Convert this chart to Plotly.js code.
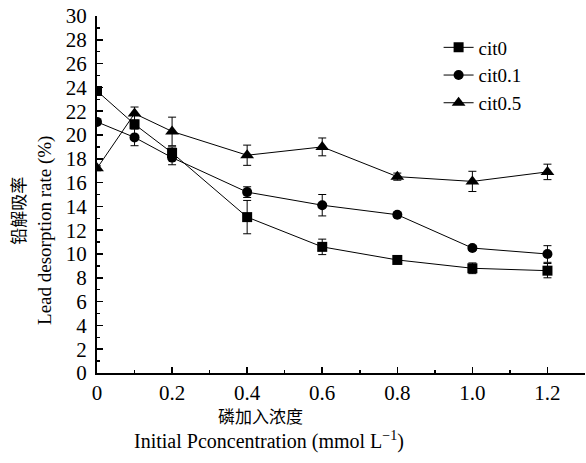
<!DOCTYPE html>
<html>
<head>
<meta charset="utf-8">
<script src="https://cdn.plot.ly/plotly-3.0.1.min.js"></script>
<style>html,body{margin:0;padding:0;background:#fff;}#chart{width:586px;height:463px;}</style>
</head>
<body>
<div id="chart"></div>
<script>
const xVals = [0, 0.1, 0.2, 0.4, 0.6, 0.8, 1.0, 1.2];
const cit0 = [23.7, 20.9, 18.5, 13.1, 10.6, 9.5, 8.8, 8.6];
const cit0Err = [0.2, 0.3, 0.5, 1.4, 0.65, 0.2, 0.45, 0.6];
const cit01 = [21.1, 19.8, 18.1, 15.2, 14.1, 13.3, 10.5, 10.0];
const cit01Err = [0.2, 0.7, 0.6, 0.45, 0.9, 0.2, 0.2, 0.7];
const cit05 = [17.2, 21.8, 20.3, 18.3, 19.0, 16.5, 16.1, 16.9];
const cit05Err = [0.2, 0.55, 1.2, 0.85, 0.75, 0.3, 0.85, 0.65];
const seriesNames = ["cit0", "cit0.1", "cit0.5"];
const yTickVals = [0,2,4,6,8,10,12,14,16,18,20,22,24,26,28,30];
const xTickVals = [0, 0.2, 0.4, 0.6, 0.8, 1.0, 1.2];
const xTickText = ["0", "0.2", "0.4", "0.6", "0.8", "1.0", "1.2"];
const xTitleCn = "磷加入浓度";
const xTitleEn = "Initial Pconcentration (mmol L<sup>−1</sup>)";
const yTitleCn = "铅解吸率";
const yTitleEn = "Lead desorption rate (%)";

const serif = "Liberation Serif";
const cjk = "Noto Sans CJK SC";
function mk(name, y, err, symbol) {
  return {
    x: xVals, y: y, name: name, type: "scatter", mode: "lines+markers",
    line: {color: "#000", width: 1},
    marker: {symbol: symbol, size: symbol === "triangle-up" ? 12 : 10, color: "#000"},
    error_y: {type: "data", array: err, visible: true, color: "#000", thickness: 1, width: 4}
  };
}
const data = [
  mk(seriesNames[0], cit0, cit0Err, "square"),
  mk(seriesNames[1], cit01, cit01Err, "circle"),
  mk(seriesNames[2], cit05, cit05Err, "triangle-up")
];
const layout = {
  width: 586, height: 463,
  margin: {l: 97, r: 1, t: 16, b: 90},
  paper_bgcolor: "#fff", plot_bgcolor: "#fff",
  font: {family: serif, color: "#000", size: 20},
  showlegend: true,
  legend: {x: 0.70, y: 0.965, xanchor: "left", yanchor: "top", bgcolor: "rgba(0,0,0,0)",
           font: {family: serif, size: 19, color: "#000"}, itemwidth: 30, tracegroupgap: 0},
  xaxis: {
    range: [0, 1.3], tickvals: xTickVals, ticktext: xTickText,
    showline: true, linecolor: "#000", linewidth: 2, mirror: false,
    ticks: "inside", ticklen: 6, tickwidth: 1.5, tickcolor: "#000",
    minor: {dtick: 0.1, tick0: 0, ticks: "inside", ticklen: 3, tickcolor: "#000", tickwidth: 1.5},
    showgrid: false, zeroline: false,
    tickfont: {family: serif, size: 21, color: "#000"}
  },
  yaxis: {
    range: [0, 30], tickvals: yTickVals,
    showline: true, linecolor: "#000", linewidth: 2,
    ticks: "inside", ticklen: 6, tickwidth: 1.5, tickcolor: "#000",
    minor: {dtick: 1, tick0: 0, ticks: "inside", ticklen: 3, tickcolor: "#000", tickwidth: 1.5},
    showgrid: false, zeroline: false, ticklabelstandoff: 4,
    tickfont: {family: serif, size: 21, color: "#000"}
  },
  annotations: [
    {text: xTitleCn, xref: "paper", yref: "paper", x: 0.336, y: -0.118, xanchor: "center", yanchor: "middle",
     showarrow: false, font: {family: cjk, size: 17, color: "#000"}},
    {text: xTitleEn, xref: "paper", yref: "paper", x: 0.352, y: -0.190, xanchor: "center", yanchor: "middle",
     showarrow: false, font: {family: serif, size: 20, color: "#000"}},
    {text: yTitleCn, xref: "paper", yref: "paper", x: -0.162, y: 0.454, xanchor: "center", yanchor: "middle",
     textangle: -90, showarrow: false, font: {family: cjk, size: 17, color: "#000"}},
    {text: yTitleEn, xref: "paper", yref: "paper", x: -0.1066, y: 0.4006, xanchor: "center", yanchor: "middle",
     textangle: -90, showarrow: false, font: {family: serif, size: 19, color: "#000"}}
  ]
};
Plotly.newPlot("chart", data, layout, {displayModeBar: false, staticPlot: true});
</script>
</body>
</html>
